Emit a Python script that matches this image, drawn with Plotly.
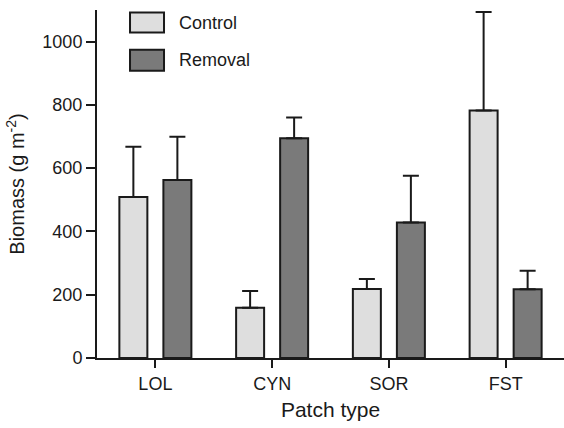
import plotly.graph_objects as go

categories = ["LOL", "CYN", "SOR", "FST"]
control_mean = [509, 159, 218, 782]
control_se = [159, 53, 32, 312]
removal_mean = [563, 695, 428, 217]
removal_se = [136, 65, 148, 59]

ink = "#1a1a1a"
c_fill = "#dedede"
r_fill = "#7a7a7a"
font = "Liberation Sans, Arial, Helvetica, sans-serif"

fig = go.Figure()
fig.add_trace(go.Bar(
    x=categories, y=control_mean, name="Control",
    marker=dict(color=c_fill, line=dict(color=ink, width=2)),
    error_y=dict(type="data", symmetric=False, array=control_se,
                 arrayminus=[0]*4, color=ink, thickness=2, width=8),
))
fig.add_trace(go.Bar(
    x=categories, y=removal_mean, name="Removal",
    marker=dict(color=r_fill, line=dict(color=ink, width=2)),
    error_y=dict(type="data", symmetric=False, array=removal_se,
                 arrayminus=[0]*4, color=ink, thickness=2, width=8),
))

# legend drawn as boxes + text
legend_items = [("Control", c_fill, 0.9925, 0.935), ("Removal", r_fill, 0.886, 0.8257)]
shapes = []
annotations = []
for label, col, y1, y0 in legend_items:
    shapes.append(dict(type="rect", xref="paper", yref="paper",
                       x0=0.0707, x1=0.1435, y0=y0, y1=y1,
                       fillcolor=col, line=dict(color=ink, width=2)))
    annotations.append(dict(text=label, xref="paper", yref="paper",
                            x=0.1713, y=(y0 + y1) / 2, xanchor="left", yanchor="middle",
                            showarrow=False, font=dict(size=18, color=ink, family=font)))

fig.update_layout(
    width=564, height=428,
    margin=dict(l=97, r=0, t=10, b=70),
    paper_bgcolor="white", plot_bgcolor="white",
    barmode="group", bargap=0.246, bargroupgap=0.364,
    showlegend=False,
    font=dict(family=font, size=18, color=ink),
    shapes=shapes, annotations=annotations,
    xaxis=dict(
        range=[-0.5, 3.5], showline=True, linecolor=ink, linewidth=2,
        ticks="outside", ticklen=8, tickwidth=2, tickcolor=ink,
        showgrid=False, zeroline=False,
        tickfont=dict(size=18, color=ink, family=font),
        title=dict(text="Patch type", font=dict(size=21, color=ink, family=font), standoff=10),
    ),
    yaxis=dict(
        range=[0, 1100], showline=True, linecolor=ink, linewidth=2,
        ticks="outside", ticklen=9, tickwidth=2, tickcolor=ink,
        tickvals=[0, 200, 400, 600, 800, 1000],
        showgrid=False, zeroline=False,
        tickfont=dict(size=18, color=ink, family=font),
        title=dict(text="Biomass (g m<sup>-2</sup>)", font=dict(size=20, color=ink, family=font), standoff=12),
    ),
)

fig.write_html("out.html", config={"displayModeBar": False},
               post_script="document.body.style.margin='0';")
